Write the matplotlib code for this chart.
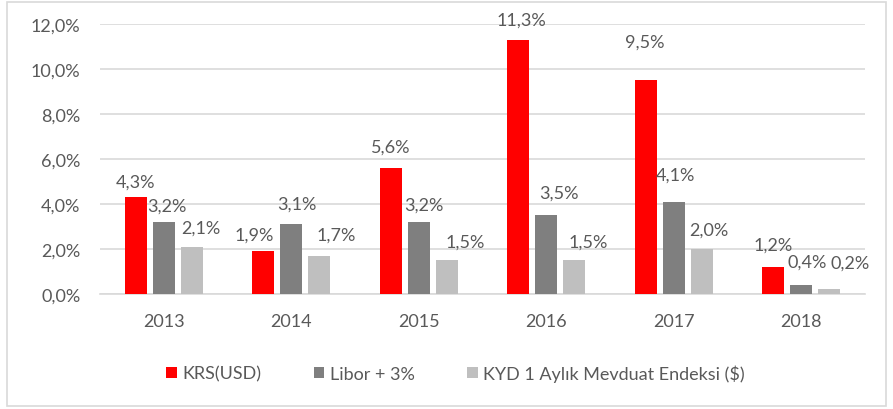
import matplotlib.pyplot as plt
import numpy as np
from matplotlib.patches import Rectangle

years = ["2013", "2014", "2015", "2016", "2017", "2018"]
krs_usd = [4.3, 1.9, 5.6, 11.3, 9.5, 1.2]
libor_3 = [3.2, 3.1, 3.2, 3.5, 4.1, 0.4]
kyd_endeks = [2.1, 1.7, 1.5, 1.5, 2.0, 0.2]

series_names = ["KRS(USD)", "Libor + 3%", "KYD 1 Aylık Mevduat Endeksi ($)"]
colors = ["#FF0000", "#7F7F7F", "#BFBFBF"]
text_color = "#595959"
grid_color = "#D9D9D9"

# data label nudges in pixels (dx right, dy = label centre above bar top), like the hand-placed excel labels
label_dx = [[0, -9, 0, 3, -1, 0],
            [3, 6, 5, 13, 2, 6],
            [9, 17, 18, 14, 7, 21]]
label_dy = [[16, 17, 21, 20, 39, 22],
            [16, 21, 17, 23, 27, 23],
            [19, 21, 19, 19, 19, 27]]

plt.rcParams['font.family'] = ['Lato', 'DejaVu Sans']


def pct(v):
    # Turkish style decimal comma
    return f"{v:.1f}".replace('.', ',') + '%'


def main():
    fig = plt.figure(figsize=(8.93, 4.10), dpi=100)
    ax = fig.add_axes([0.112, 0.2805, 0.8566, 0.6585])

    # light border round the whole chart
    fig.patches.append(Rectangle((0.008, 0.007), 0.984, 0.986, transform=fig.transFigure,
                                 fill=False, edgecolor=grid_color, linewidth=1.2))

    x = np.arange(len(years))
    step = 0.22
    width = 0.173
    px = 72 / 100  # pixel -> points
    data = [krs_usd, libor_3, kyd_endeks]
    for k, (vals, name, col) in enumerate(zip(data, series_names, colors)):
        pos = x + (k - 1) * step
        bars = ax.bar(pos, vals, width, color=col, label=name, zorder=3)
        for i, (b, v) in enumerate(zip(bars, vals)):
            ax.annotate(pct(v), (b.get_x() + b.get_width() / 2, v),
                        xytext=(label_dx[k][i] * px, label_dy[k][i] * px),
                        textcoords='offset points', ha='center', va='center',
                        fontsize=13, color=text_color)

    ax.set_xlim(-0.5, len(years) - 0.5)
    ax.set_ylim(0, 12)
    ax.set_yticks(np.arange(0, 12.1, 2))
    ax.set_yticklabels([pct(v) for v in np.arange(0, 12.1, 2)])
    ax.set_xticks(x)
    ax.set_xticklabels(years)
    ax.tick_params(axis='both', length=0, labelsize=13, labelcolor=text_color)
    ax.tick_params(axis='x', pad=14)
    ax.tick_params(axis='y', pad=14)
    ax.yaxis.grid(True, color=grid_color, linewidth=1.2, zorder=0)
    for s in ['top', 'right', 'left']:
        ax.spines[s].set_visible(False)
    ax.spines['bottom'].set_color(grid_color)
    ax.spines['bottom'].set_linewidth(1.2)

    leg = fig.legend(loc='center', bbox_to_anchor=(0.51, 0.088), ncol=3, frameon=False,
                     fontsize=13, handlelength=0.6, handleheight=0.6, handletextpad=0.3,
                     columnspacing=2.9)
    for t in leg.get_texts():
        t.set_color(text_color)

    fig.savefig("out.png", dpi=100)


if __name__ == "__main__":
    main()
